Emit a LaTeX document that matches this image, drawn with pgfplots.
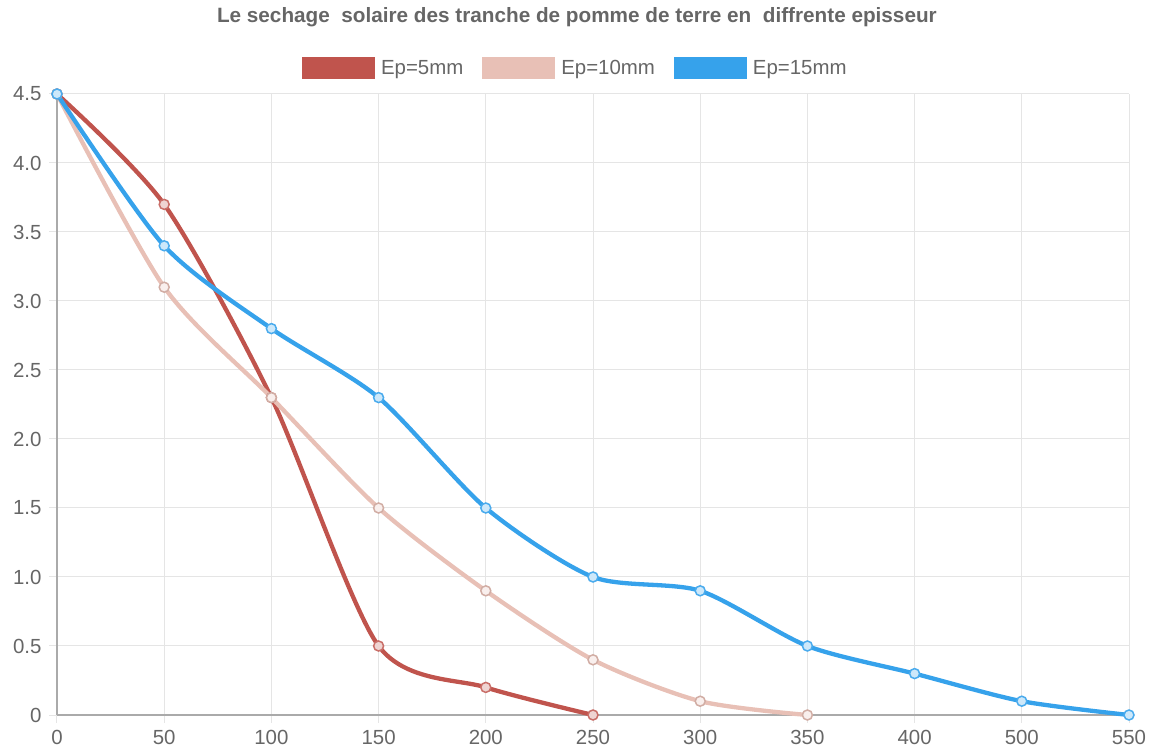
\documentclass[border=0pt]{standalone}
\usepackage{pgfplots}
\pgfplotsset{compat=1.18}
\usepackage{fontspec}
\setmainfont{Liberation Sans}
\definecolor{cred}{RGB}{192,84,77}
\definecolor{cpink}{RGB}{232,192,182}
\definecolor{cblue}{RGB}{54,162,235}
\definecolor{txtgray}{RGB}{102,102,102}
\definecolor{gridgray}{RGB}{229,229,229}
\definecolor{axgray}{RGB}{170,170,170}
\begin{document}
\begin{tikzpicture}
\useasboundingbox (-57bp,-36bp) rectangle (1096bp,715bp);
\begin{axis}[
  at={(0,0)}, anchor=south west,
  scale only axis, width=1072bp, height=621bp,
  xmin=0, xmax=10, ymin=0, ymax=4.5,
  xtick={0,...,10},
  xticklabels={0,50,100,150,200,250,300,350,400,500,550},
  ytick={0,0.5,1,1.5,2,2.5,3,3.5,4,4.5},
  yticklabels={0,0.5,1.0,1.5,2.0,2.5,3.0,3.5,4.0,4.5},
  grid=major,
  grid style={gridgray, line width=1bp},
  axis x line*=bottom, axis y line*=left,
  axis line style={axgray, line width=1.2bp},
  tick align=outside, major tick length=8bp,
  tick style={gridgray, line width=1bp},
  ticklabel style={font=\fontsize{20.5}{24}\selectfont, text=txtgray},
  yticklabel style={xshift=-4bp},
  xticklabel style={yshift=-4bp},
  /pgf/number format/assume math mode=true,
  clip=false,
  legend columns=3,
  legend style={at={(0.4835,1.042)}, anchor=center, draw=none, fill=none,
    font=\fontsize{20.5}{24}\selectfont, text=txtgray,
    /tikz/every odd column/.append style={column sep=4bp},
    /tikz/every even column/.append style={column sep=17bp}},
  legend image code/.code={\fill[draw=none] (0bp,-11bp) rectangle (73bp,11bp);},
]
\addplot[color=cred, line width=4.3bp, smooth, tension=0.45, mark=*, mark size=5bp,
  mark options={fill=cred!25, draw=cred!85, line width=1.5bp}]
  coordinates {(0,4.5)(1,3.7)(2,2.3)(3,0.5)(4,0.2)(5,0)};
\addlegendentry{Ep=5mm}
\addplot[color=cpink, line width=4.3bp, smooth, tension=0.45, mark=*, mark size=5bp,
  mark options={fill=cpink!25, draw=cpink!90!black, line width=1.5bp}]
  coordinates {(0,4.5)(1,3.1)(2,2.3)(3,1.5)(4,0.9)(5,0.4)(6,0.1)(7,0)};
\addlegendentry{Ep=10mm}
\addplot[color=cblue, line width=4.3bp, smooth, tension=0.45, mark=*, mark size=5bp,
  mark options={fill=cblue!25, draw=cblue!90, line width=1.5bp}]
  coordinates {(0,4.5)(1,3.4)(2,2.8)(3,2.3)(4,1.5)(5,1.0)(6,0.9)(7,0.5)(8,0.3)(9,0.1)(10,0)};
\addlegendentry{Ep=15mm}
\node[font=\bfseries\fontsize{20.8}{24}\selectfont, text=txtgray] at (rel axis cs:0.485,1.124)
  {Le sechage\ \ solaire des tranche de pomme de terre en\ \ diffrente episseur};
\end{axis}
\end{tikzpicture}
\end{document}
